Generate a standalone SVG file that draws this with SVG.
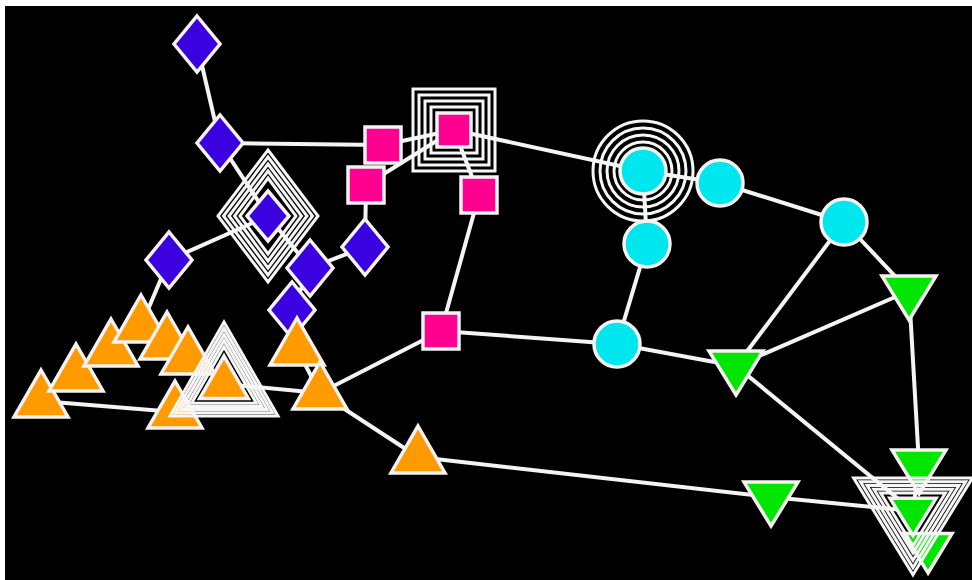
<svg xmlns="http://www.w3.org/2000/svg" width="972" height="580" viewBox="0 0 972 580">
<defs>
<style>
.e{stroke:#f4f4f4;stroke-width:4;fill:none;stroke-linecap:round}
.n{stroke:#f6f2f2;stroke-width:3.5}
.r{fill:none;stroke:#f6f6f6;stroke-width:3}
.dia{fill:#3a00e0}
.sq{fill:#ff0090}
.ci{fill:#00e6ee}
.gr{fill:#00e600}
.or{fill:#ff9a00}
</style>
<polygon id="tu" points="0,-31 27,16 -27,16"/>
<polygon id="td" points="0,29 27,-15 -27,-15"/>
<polygon id="dm" points="0,-28 23,0 0,28 -23,0"/>
</defs>
<rect x="0" y="0" width="972" height="580" fill="#ffffff"/>
<rect x="5" y="6" width="967" height="574" fill="#000000"/>
<g id="connectors">
<line class="e" x1="197" y1="44" x2="220" y2="143"/>
<line class="e" x1="220" y1="143" x2="383" y2="145"/>
<line class="e" x1="220" y1="143" x2="268" y2="216"/>
<line class="e" x1="268" y1="216" x2="169" y2="260"/>
<line class="e" x1="268" y1="216" x2="310" y2="268"/>
<line class="e" x1="310" y1="268" x2="365" y2="247"/>
<line class="e" x1="310" y1="268" x2="292" y2="310"/>
<line class="e" x1="365" y1="247" x2="366" y2="185"/>
<line class="e" x1="366" y1="185" x2="454" y2="130"/>
<line class="e" x1="383" y1="145" x2="454" y2="130"/>
<line class="e" x1="454" y1="130" x2="479" y2="195"/>
<line class="e" x1="479" y1="195" x2="441" y2="331"/>
<line class="e" x1="454" y1="130" x2="643" y2="171"/>
<line class="e" x1="643" y1="171" x2="720" y2="183"/>
<line class="e" x1="643" y1="171" x2="647" y2="244"/>
<line class="e" x1="647" y1="244" x2="617" y2="344"/>
<line class="e" x1="720" y1="183" x2="844" y2="222"/>
<line class="e" x1="844" y1="222" x2="736" y2="366"/>
<line class="e" x1="844" y1="222" x2="909" y2="291"/>
<line class="e" x1="909" y1="291" x2="736" y2="366"/>
<line class="e" x1="909" y1="291" x2="919" y2="465"/>
<line class="e" x1="919" y1="465" x2="913" y2="511"/>
<line class="e" x1="617" y1="344" x2="736" y2="366"/>
<line class="e" x1="441" y1="331" x2="617" y2="344"/>
<line class="e" x1="441" y1="331" x2="320" y2="393"/>
<line class="e" x1="736" y1="366" x2="913" y2="511"/>
<line class="e" x1="418" y1="457" x2="771" y2="497"/>
<line class="e" x1="771" y1="497" x2="913" y2="511"/>
<line class="e" x1="320" y1="393" x2="418" y2="457"/>
<line class="e" x1="320" y1="393" x2="297" y2="349"/>
<line class="e" x1="297" y1="349" x2="292" y2="310"/>
<line class="e" x1="41" y1="401" x2="175" y2="412"/>
<line class="e" x1="224" y1="384" x2="320" y2="393"/>
<line class="e" x1="169" y1="260" x2="141" y2="326"/>
</g>
<g id="n-d1"><use href="#dm" class="n dia" x="197" y="44"/></g>
<g id="n-d2"><use href="#dm" class="n dia" x="220" y="143"/></g>
<g id="n-d3"><use href="#dm" class="n dia" x="169" y="260"/></g>
<g id="n-d4"><use href="#dm" class="n dia" x="365" y="247"/></g>
<g id="n-d5"><use href="#dm" class="n dia" x="292" y="310"/></g>
<g id="n-d6"><use href="#dm" class="n dia" x="310" y="268"/></g>
<g id="n-dbig">
<polygon class="r" points="268,150 318,216 268,282 218,216"/>
<polygon class="r" points="268,157 312.5,216 268,275 223.5,216"/>
<polygon class="r" points="268,164 307,216 268,268 229,216"/>
<polygon class="r" points="268,171 301.5,216 268,261 234.5,216"/>
<polygon class="r" points="268,178 296,216 268,254 240,216"/>
<polygon class="n dia" points="268,191 289,216 268,241 247,216"/>
</g>
<g id="n-s1"><rect class="n sq" x="365" y="127" width="36" height="36"/></g>
<g id="n-s2"><rect class="n sq" x="348" y="167" width="36" height="36"/></g>
<g id="n-s3"><rect class="n sq" x="461" y="177" width="36" height="36"/></g>
<g id="n-s4"><rect class="n sq" x="423" y="313" width="36" height="36"/></g>
<g id="n-sbig">
<rect class="r" x="413" y="89" width="82" height="82"/>
<rect class="r" x="419" y="95" width="70" height="70"/>
<rect class="r" x="425" y="101" width="58" height="58"/>
<rect class="r" x="431" y="107" width="46" height="46"/>
<rect class="n sq" x="437" y="113" width="34" height="34"/>
</g>
<g id="n-cbig">
<circle class="r" cx="643" cy="171" r="50"/>
<circle class="r" cx="643" cy="171" r="43"/>
<circle class="r" cx="643" cy="171" r="36"/>
<circle class="r" cx="643" cy="171" r="29"/>
<circle class="n ci" cx="643" cy="171" r="23"/>
</g>
<g id="n-c1"><circle class="n ci" cx="720" cy="183" r="23"/></g>
<g id="n-c2"><circle class="n ci" cx="844" cy="222" r="23"/></g>
<g id="n-c3"><circle class="n ci" cx="647" cy="244" r="23"/></g>
<g id="n-c4"><circle class="n ci" cx="617" cy="344" r="23"/></g>
<g id="n-g1"><use href="#td" class="n gr" x="736" y="366"/></g>
<g id="n-g2"><use href="#td" class="n gr" x="909" y="291"/></g>
<g id="n-g3"><use href="#td" class="n gr" x="919" y="465"/></g>
<g id="n-g4"><use href="#td" class="n gr" x="771" y="497"/></g>
<g id="n-g5"><polygon class="n gr" points="928,573 952,533.5 904,533.5"/></g>
<g id="n-gbig">
<polygon class="r" points="913,574.8 972.4,478 853.6,478"/>
<polygon class="r" points="913,567.6 965.7,481.8 860.4,481.8"/>
<polygon class="r" points="913,560.3 958.9,485.5 867.1,485.5"/>
<polygon class="r" points="913,553 952.2,489.3 873.9,489.3"/>
<polygon class="r" points="913,545.8 945.4,493 880.6,493"/>
<polygon class="n gr" points="913,535.7 936,498.3 890,498.3"/>
</g>
<g id="n-t1"><use href="#tu" class="n or" x="41" y="401"/></g>
<g id="n-t2"><use href="#tu" class="n or" x="76" y="375"/></g>
<g id="n-t3"><use href="#tu" class="n or" x="111" y="350"/></g>
<g id="n-t4"><use href="#tu" class="n or" x="141" y="326"/></g>
<g id="n-t5"><use href="#tu" class="n or" x="167" y="343"/></g>
<g id="n-t6"><use href="#tu" class="n or" x="188" y="358"/></g>
<g id="n-t8"><use href="#tu" class="n or" x="175" y="412"/></g>
<g id="n-tbig">
<polygon class="r" points="224,322 278,416 170,416"/>
<polygon class="r" points="224,328.2 272.6,412.8 175.4,412.8"/>
<polygon class="r" points="224,334.4 267.2,409.6 180.8,409.6"/>
<polygon class="r" points="224,340.6 261.8,406.4 186.2,406.4"/>
<polygon class="r" points="224,346.8 256.4,403.2 191.6,403.2"/>
<polygon class="n or" points="224,356.1 248.3,398.4 199.7,398.4"/>
</g>
<g id="n-t9"><use href="#tu" class="n or" x="297" y="349"/></g>
<g id="n-t10"><use href="#tu" class="n or" x="320" y="393"/></g>
<g id="n-t11"><use href="#tu" class="n or" x="418" y="457"/></g>
</svg>
